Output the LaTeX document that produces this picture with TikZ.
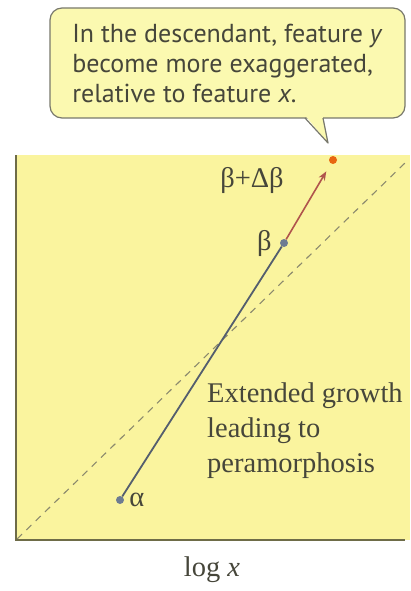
\documentclass[tikz,border=0pt]{standalone}
\usepackage{fontspec}
\setmainfont{Liberation Serif}
\newfontfamily\notefont{PT Sans}
\usepackage{tikz}
\usetikzlibrary{arrows.meta,positioning,calc}
\definecolor{notefill}{RGB}{251,249,176}
\definecolor{panelfill}{RGB}{250,244,158}
\definecolor{noteline}{RGB}{120,120,108}
\definecolor{axisgrey}{RGB}{110,108,72}
\definecolor{inkgrey}{RGB}{70,70,58}
\definecolor{slateblue}{RGB}{84,94,110}
\definecolor{dotblue}{RGB}{110,124,146}
\definecolor{rust}{RGB}{176,84,76}
\definecolor{ember}{RGB}{232,102,16}

\begin{document}
\begin{tikzpicture}[x=1pt,y=-1pt,
  note/.style={draw=noteline,fill=notefill,rounded corners=12pt,line width=1.2pt,
               minimum width=355pt,minimum height=110pt,align=left,
               font=\notefont\fontsize{26}{30}\selectfont,text=inkgrey},
  lbl/.style={font=\fontsize{28.5}{35}\selectfont,text=inkgrey,inner sep=0pt},
  dot/.style={circle,inner sep=0pt,minimum size=8pt},
  axisline/.style={draw=axisgrey,line width=2pt},
  iso/.style={draw=axisgrey!80,dashed,dash pattern=on 7pt off 6pt,line width=1.1pt},
  growline/.style={draw=slateblue,line width=1.8pt},
  gain/.style={-{Stealth[length=9pt,width=7pt]},draw=rust,line width=1.6pt,
               shorten >=9pt}]
\useasboundingbox (0,0) rectangle (410,591);

% plot panel
\fill[panelfill] (16,155) rectangle (410,540);
\coordinate (origin) at (17,539);
\coordinate (isoend) at (405,163);
\draw[iso] (origin) -- (isoend);
\draw[axisline] (16,155) |- (405,540);

% callout
\node[note] (note) at (227.5,63) {In the descendant, feature \textit{y}\\
  become more exaggerated,\\ relative to feature \textit{x}.};
\coordinate (tip) at (328,143);
\fill[notefill] (305.5,116) -- (tip) -- (322.5,116) -- cycle;
\draw[noteline,line width=1.2pt,line join=round] (305,118) -- (tip) -- (323,118);

% growth trajectory
\node[dot,fill=dotblue] (alpha) at (120,500) {};
\node[dot,fill=dotblue] (beta) at (284,243) {};
\node[dot,fill=ember] (desc) at (333,160) {};
\draw[growline] (alpha) -- (beta);
\draw[gain] (beta) -- (desc);

\node[lbl,right=5pt of alpha] (alphalbl) {α};
\node[lbl,left=8pt of beta] (betalbl) {β};
\node[lbl] (desclbl) at (252,180) {β+Δβ};
\node[lbl,anchor=north west,align=left] (ext) at (207,383)
  {Extended growth\\ leading to\\ peramorphosis};
\node[lbl] (xlabel) at (212,570) {log \textit{x}};
\end{tikzpicture}
\end{document}
